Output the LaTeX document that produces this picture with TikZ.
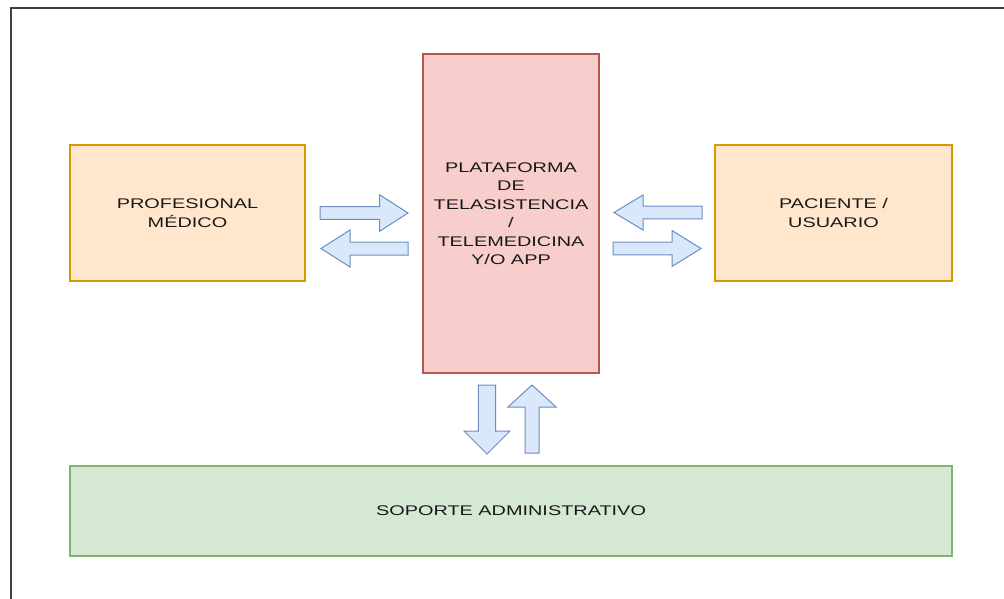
\documentclass[tikz,border=0pt]{standalone}
\usepackage{fontspec}
\newfontfamily\lbl[FakeStretch=1.42]{Liberation Sans}
\definecolor{orgfill}{HTML}{FFE6CC}
\definecolor{orgline}{HTML}{D79B00}
\definecolor{redfill}{HTML}{F8CECC}
\definecolor{redline}{HTML}{B85450}
\definecolor{grnfill}{HTML}{D5E8D4}
\definecolor{grnline}{HTML}{82B366}
\definecolor{blufill}{HTML}{DAE8FC}
\definecolor{bluline}{HTML}{6C8EBF}
\definecolor{framecol}{HTML}{404040}
\begin{document}
\begin{tikzpicture}[x=1pt,y=-1pt,
  box/.style={draw, line width=1.3pt, inner sep=0pt, align=center,
    font=\lbl\fontsize{14}{18.5}\selectfont, text=black!90},
  orgbox/.style={box, fill=orgfill, draw=orgline},
  redbox/.style={box, fill=redfill, draw=redline},
  grnbox/.style={box, fill=grnfill, draw=grnline},
  blockarrow/.style={fill=blufill, draw=bluline, line width=1pt, line join=miter},
  % block arrow: #1 length, #2 body half width, #3 head half width, #4 head length
  pics/barrow/.style n args={4}{code={
    \filldraw[blockarrow] (0,-#2) -- ({#1-#4},-#2) -- ({#1-#4},-#3) -- (#1,0)
      -- ({#1-#4},#3) -- ({#1-#4},#2) -- (0,#2) -- cycle;}}]
\clip (0,0) rectangle (1004,598);
\fill[white] (0,0) rectangle (1004,598);
\draw[framecol, line width=2pt] (10.5,7.5) rectangle (1020,620);

% boxes
\node[orgbox, minimum width=235pt, minimum height=136pt] (med) at (187.5,213) {PROFESIONAL\\MÉDICO};
\node[redbox, minimum width=176pt, minimum height=319pt] (plat) at (511,213.5)
  {PLATAFORMA\\DE\\TELASISTENCIA\\/\\TELEMEDICINA\hspace*{4pt}\\Y/O APP};
\node[orgbox, minimum width=237pt, minimum height=136pt] (pac) at (833.5,213) {PACIENTE /\\USUARIO};
\node[grnbox, minimum width=882pt, minimum height=90pt] (sop) at (511,511) {SOPORTE ADMINISTRATIVO};

% exchange arrows between the boxes
\pic at (320,213) {barrow={88}{6.3}{18.3}{28.5}};
\pic[xscale=-1] at (408,248.5) {barrow={87}{6.5}{18.5}{29}};
\pic[xscale=-1] at (702,212.5) {barrow={88}{6.3}{17.5}{29}};
\pic at (613,248.5) {barrow={88}{6.3}{18}{29}};
\pic[rotate=-90] at (487,385) {barrow={69}{8.7}{23}{23}};
\pic[rotate=90] at (532,453) {barrow={68}{7}{24}{22}};
\end{tikzpicture}
\end{document}
